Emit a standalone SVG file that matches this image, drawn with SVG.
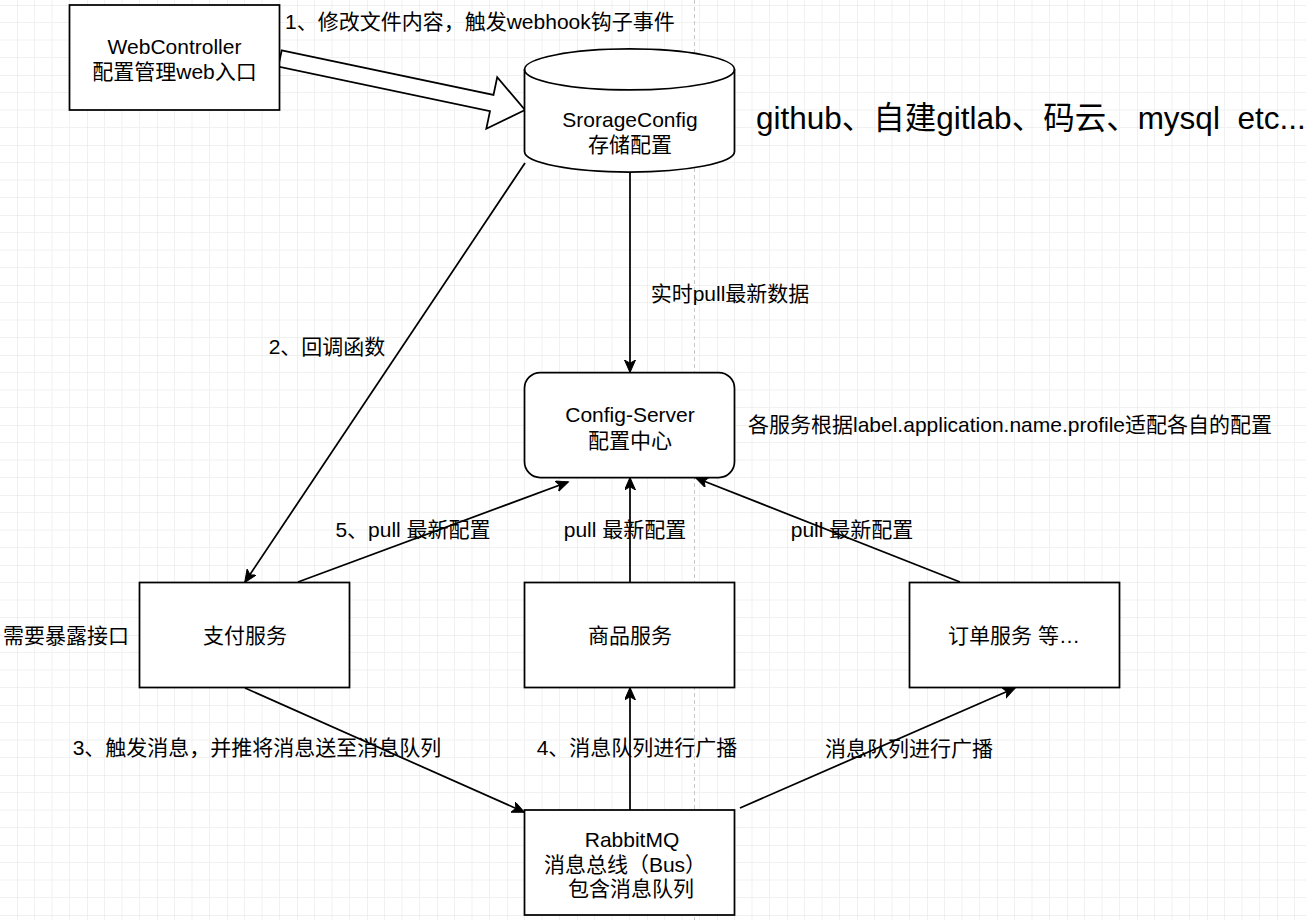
<svg xmlns="http://www.w3.org/2000/svg" width="1306" height="920" viewBox="0 0 1306 920">
<style>
text{font-family:"Liberation Sans","Noto Sans CJK SC",sans-serif;font-size:21px;fill:#000}
.c{text-anchor:middle}
.node{fill:#fff;stroke:#000;stroke-width:1.75}
.edge{fill:none;stroke:#000;stroke-width:1.75}
.big{font-size:31.5px;white-space:pre}
</style>
<defs>
<pattern id="grid" width="70" height="70" patternUnits="userSpaceOnUse" x="17" y="5">
<path d="M17.5,0V70M35,0V70M52.5,0V70M0,17.5H70M0,35H70M0,52.5H70" stroke="#f1f1f1" stroke-width="1" fill="none"/>
<path d="M0,0V70M0,0H70" stroke="#e2e2e2" stroke-width="1" fill="none"/>
</pattern>
<marker id="arr" markerUnits="userSpaceOnUse" markerWidth="14" markerHeight="12" refX="12" refY="5.5" orient="auto">
<path d="M0,0 L12.5,5.5 L0,11 L3.2,5.5 Z" fill="#000" stroke="#000" stroke-width="1"/>
</marker>
</defs>
<rect width="1306" height="920" fill="#fff"/>
<rect width="1306" height="920" fill="url(#grid)"/>
<line x1="694.5" y1="0" x2="694.5" y2="920" stroke="#c8c8c8" stroke-width="1" stroke-dasharray="4,3"/>

<g id="connectors">
<polygon class="node" points="281.7,50.4 493.5,94.9 497.2,77.2 525,110 486.3,128.8 490,111.1 278.3,66.6"/>
<line class="edge" x1="525" y1="163" x2="245" y2="582" marker-end="url(#arr)"/>
<line class="edge" x1="630" y1="172" x2="630" y2="372" marker-end="url(#arr)"/>
<line class="edge" x1="298" y1="582" x2="568" y2="482" marker-end="url(#arr)"/>
<line class="edge" x1="630" y1="582" x2="630" y2="478" marker-end="url(#arr)"/>
<line class="edge" x1="960" y1="582" x2="696" y2="478" marker-end="url(#arr)"/>
<line class="edge" x1="245" y1="688" x2="524" y2="812" marker-end="url(#arr)"/>
<line class="edge" x1="630" y1="810" x2="630" y2="688" marker-end="url(#arr)"/>
<line class="edge" x1="740" y1="808" x2="1015" y2="688" marker-end="url(#arr)"/>
<text x="285" y="29">1、修改文件内容，触发webhook钩子事件</text>
<text class="c" x="327" y="354">2、回调函数</text>
<text class="c" x="730" y="301">实时pull最新数据</text>
<text class="c" x="413" y="537">5、pull 最新配置</text>
<text class="c" x="625" y="537">pull 最新配置</text>
<text class="c" x="852" y="537">pull 最新配置</text>
<text class="c" x="257" y="755">3、触发消息，并推将消息送至消息队列</text>
<text class="c" x="637" y="755">4、消息队列进行广播</text>
<text class="c" x="909" y="756">消息队列进行广播</text>
</g>

<g id="webcontroller">
<rect class="node" x="69.5" y="5" width="210" height="105"/>
<text class="c" x="174.5" y="54">WebController</text>
<text class="c" x="174.5" y="79">配置管理web入口</text>
</g>

<g id="storage">
<path class="node" d="M524.5,69.5 A105,20.5 0 0 1 734.5,69.5 V151.5 A105,20.5 0 0 1 524.5,151.5 Z"/>
<path class="edge" d="M524.5,69.5 A105,20.5 0 0 0 734.5,69.5"/>
<text class="c" x="630" y="127">SrorageConfig</text>
<text class="c" x="630" y="152">存储配置</text>
</g>

<g id="storage-note">
<text class="big" x="756" y="129" xml:space="preserve">github、自建gitlab、码云、mysql  etc...</text>
</g>

<g id="config-server">
<rect class="node" x="524.5" y="372.5" width="210" height="105" rx="15.75" ry="15.75"/>
<text class="c" x="630" y="422">Config-Server</text>
<text class="c" x="630" y="448">配置中心</text>
</g>

<g id="config-note">
<text x="748" y="432">各服务根据label.application.name.profile适配各自的配置</text>
</g>

<g id="pay">
<rect class="node" x="139.5" y="582.5" width="210" height="105"/>
<text class="c" x="245" y="643">支付服务</text>
</g>

<g id="pay-note">
<text x="3" y="643">需要暴露接口</text>
</g>

<g id="goods">
<rect class="node" x="524.5" y="582.5" width="210" height="105"/>
<text class="c" x="630" y="643">商品服务</text>
</g>

<g id="order">
<rect class="node" x="909.5" y="582.5" width="210" height="105"/>
<text class="c" x="1014" y="643">订单服务 等…</text>
</g>

<g id="rabbitmq">
<rect class="node" x="524.5" y="810" width="210" height="105"/>
<text class="c" x="632" y="847">RabbitMQ</text>
<text class="c" x="625" y="872">消息总线（Bus）</text>
<text class="c" x="631" y="896">包含消息队列</text>
</g>
</svg>
